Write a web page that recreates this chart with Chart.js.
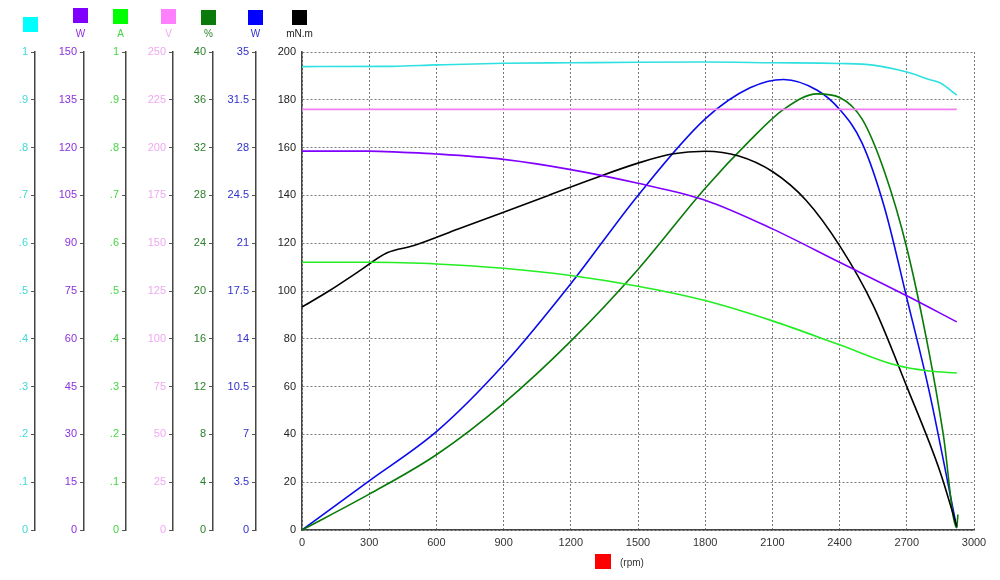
<!DOCTYPE html>
<html><head><meta charset="utf-8">
<script src="https://cdn.jsdelivr.net/npm/chart.js@4"></script>
<style>html,body{margin:0;padding:0;background:#fff;}#wrap{width:1000px;height:580px;position:relative;}</style>
</head><body><div id="wrap"><canvas id="c" width="1000" height="580"></canvas></div>
<script>
// ---- data ----
const rpmTicks = [0,300,600,900,1200,1500,1800,2100,2400,2700,3000];
const torqueTicks = [0,20,40,60,80,100,120,140,160,180,200];
const effTicks = [0,0.1,0.2,0.3,0.4,0.5,0.6,0.7,0.8,0.9,1];
const pinTicks = [0,15,30,45,60,75,90,105,120,135,150];
const ampTicks = [0,0.1,0.2,0.3,0.4,0.5,0.6,0.7,0.8,0.9,1];
const voltTicks = [0,25,50,75,100,125,150,175,200,225,250];
const pctTicks = [0,4,8,12,16,20,24,28,32,36,40];
const poutTicks = [0,3.5,7,10.5,14,17.5,21,24.5,28,31.5,35];

const unitLabels = ['', 'W', 'A', 'V', '%', 'W', 'mN.m'];
const xUnitLabel = '(rpm)';

const cyanRpm = [0,400,600,900,1200,1500,1800,2100,2400,2550,2700,2800,2850,2923];
const cyanVal = [0.9695,0.97,0.973,0.9765,0.9775,0.9785,0.979,0.9775,0.976,0.9725,0.958,0.9425,0.935,0.91];

const pinRpm = [0,300,450,600,900,1200,1500,1800,2100,2400,2700,2923];
const pinVal = [118.9,118.9,118.5,118,116.3,113.1,108.8,103.5,94.5,84,73.5,65.3];

const ampRpm = [0,300,450,600,900,1200,1500,1800,2100,2400,2650,2800,2923];
const ampVal = [0.56,0.56,0.559,0.5565,0.5475,0.5325,0.51,0.48,0.4375,0.3875,0.345,0.3325,0.3285];

const voltRpm = [0,1000,2000,2923];
const voltVal = [220,220,220,220];

const pctRpm = [0,300,600,900,1200,1500,1800,2000,2150,2300,2400,2500,2600,2700,2800,2862,2923,2928];
const pctVal = [0,3.0,6.3,10.6,15.8,21.8,28.6,32.6,35.2,36.5,36.2,34.4,30,23.6,14.8,8.1,0.2,1.3];

const poutRpm = [0,300,600,900,1200,1500,1800,2000,2150,2300,2400,2500,2600,2700,2800,2923];
const poutVal = [0,3.6,7.2,12.1,18.03,24.5,30.1,32.38,32.99,32.2,30.8,28.35,23.63,16.98,10.15,0.18];

const torqueRpm = [0,120,250,380,500,700,900,1100,1300,1500,1650,1800,1950,2100,2250,2400,2550,2700,2850,2923];
const torqueVal = [93.3,100,108,116,119,126,133,140,147,153.5,157.3,158.5,156.5,150,138,119,94,60,24,1.5];

// ---- styles ----
const FONT = 'Arial, "Liberation Sans", sans-serif';
const C = {
  cyan:'#2fe0e0', purple:'#8000ff', green:'#22ee22', pink:'#f080f0', dkgreen:'#087a08', blue:'#0a0aee', black:'#000000'
};
const TC = {
  cyan:'#40d8d8', purple:'#8a30e0', green:'#44d844', pink:'#f0a8f0', dkgreen:'#2a802a', blue:'#3030d0', black:'#222222'
};

function pts(xs, ys){ return xs.map((x,i)=>({x, y:ys[i]})); }
function fmtFrac(v){ if(v===0) return '0'; if(v===1) return '1'; return String(v).replace(/^0\./,'.'); }

function leftAxis(ticks, min, max, color, width, weight, fmt){
  return {
    type:'linear', position:'left', min, max, weight,
    afterBuildTicks: s => { s.ticks = ticks.map(v=>({value:v})); },
    afterFit: s => { s.width = width; },
    grid:{drawOnChartArea:false, drawTicks:true, tickLength:4, color:'#555', tickColor:'#555', lineWidth:1},
    border:{display:true, color:'#444', width:1.5},
    ticks:{color, font:{family:FONT, size:11}, padding:3, autoSkip:false, maxRotation:0, callback: fmt || (v=>String(v))}
  };
}

function ds(data, color, axis){
  return {data, borderColor:color, backgroundColor:color, borderWidth:1.6, pointRadius:0, fill:false,
    cubicInterpolationMode:'monotone', yAxisID:axis};
}

const legendSquares = [
  {color:'#00ffff', x:23, y:17},
  {color:'#8000ff', x:73, y:8},
  {color:'#00ff00', x:113, y:9},
  {color:'#ff80ff', x:161, y:9},
  {color:'#0a7a0a', x:201, y:10},
  {color:'#0000ff', x:248, y:10},
  {color:'#000000', x:292, y:10}
];
const legendColors = [TC.cyan, TC.purple, TC.green, TC.pink, TC.dkgreen, TC.blue, TC.black];

const decor = {
  id:'decor',
  afterDraw(chart){
    const ctx = chart.ctx;
    ctx.save();
    legendSquares.forEach((s,i)=>{
      ctx.fillStyle = s.color;
      ctx.fillRect(s.x, s.y, 15, 15);
      if(unitLabels[i]){
        ctx.fillStyle = legendColors[i];
        ctx.font = '10px ' + FONT;
        ctx.textAlign = 'center';
        ctx.textBaseline = 'alphabetic';
        ctx.fillText(unitLabels[i], s.x + 7.5, 37);
      }
    });
    // x unit marker
    ctx.fillStyle = '#ff0000';
    ctx.fillRect(595, 554, 16, 15);
    ctx.fillStyle = '#333';
    ctx.font = '10px ' + FONT;
    ctx.textAlign = 'left';
    ctx.textBaseline = 'alphabetic';
    ctx.fillText(xUnitLabel, 620, 566);
    ctx.restore();
  }
};

new Chart(document.getElementById('c'), {
  type:'line',
  data:{ datasets:[
    ds(pts(cyanRpm, cyanVal), C.cyan, 'yEff'),
    ds(pts(voltRpm, voltVal), C.pink, 'yV'),
    ds(pts(pinRpm, pinVal), C.purple, 'yPin'),
    ds(pts(ampRpm, ampVal), C.green, 'yA'),
    ds(pts(torqueRpm, torqueVal), C.black, 'y'),
    ds(pts(pctRpm, pctVal), C.dkgreen, 'yPct'),
    ds(pts(poutRpm, poutVal), C.blue, 'yPout')
  ]},
  options:{
    responsive:false, animation:false, devicePixelRatio:1,
    layout:{padding:{left:0, top:52, right:26, bottom:0}},
    plugins:{legend:{display:false}, tooltip:{enabled:false}},
    scales:{
      x:{type:'linear', min:0, max:3000,
        afterBuildTicks: s => { s.ticks = rpmTicks.map(v=>({value:v})); },
        afterFit: s => { s.height = 50; },
        grid:{color:'#777', lineWidth:1, drawTicks:false},
        border:{display:true, color:'#444', width:1.5, dash:[2,2]},
        ticks:{color:'#333', font:{family:FONT, size:11}, padding:6, autoSkip:false, maxRotation:0, callback: v => String(v)}
      },
      yEff: leftAxis(effTicks, 0, 1, TC.cyan, 35, 6, fmtFrac),
      yPin: leftAxis(pinTicks, 0, 150, TC.purple, 49, 5),
      yA: leftAxis(ampTicks, 0, 1, TC.green, 42, 4, fmtFrac),
      yV: leftAxis(voltTicks, 0, 250, TC.pink, 47, 3),
      yPct: leftAxis(pctTicks, 0, 40, TC.dkgreen, 40, 2),
      yPout: leftAxis(poutTicks, 0, 35, TC.blue, 43, 1),
      y:{type:'linear', position:'left', min:0, max:200, weight:0,
        afterBuildTicks: s => { s.ticks = torqueTicks.map(v=>({value:v})); },
        afterFit: s => { s.width = 46; },
        grid:{color:'#777', lineWidth:1, drawTicks:false},
        border:{display:true, color:'#444', width:1.5, dash:[2,2]},
        ticks:{color:TC.black, font:{family:FONT, size:11}, padding:6, autoSkip:false, callback: v => String(v)}
      }
    }
  },
  plugins:[decor]
});
</script>
</body></html>
